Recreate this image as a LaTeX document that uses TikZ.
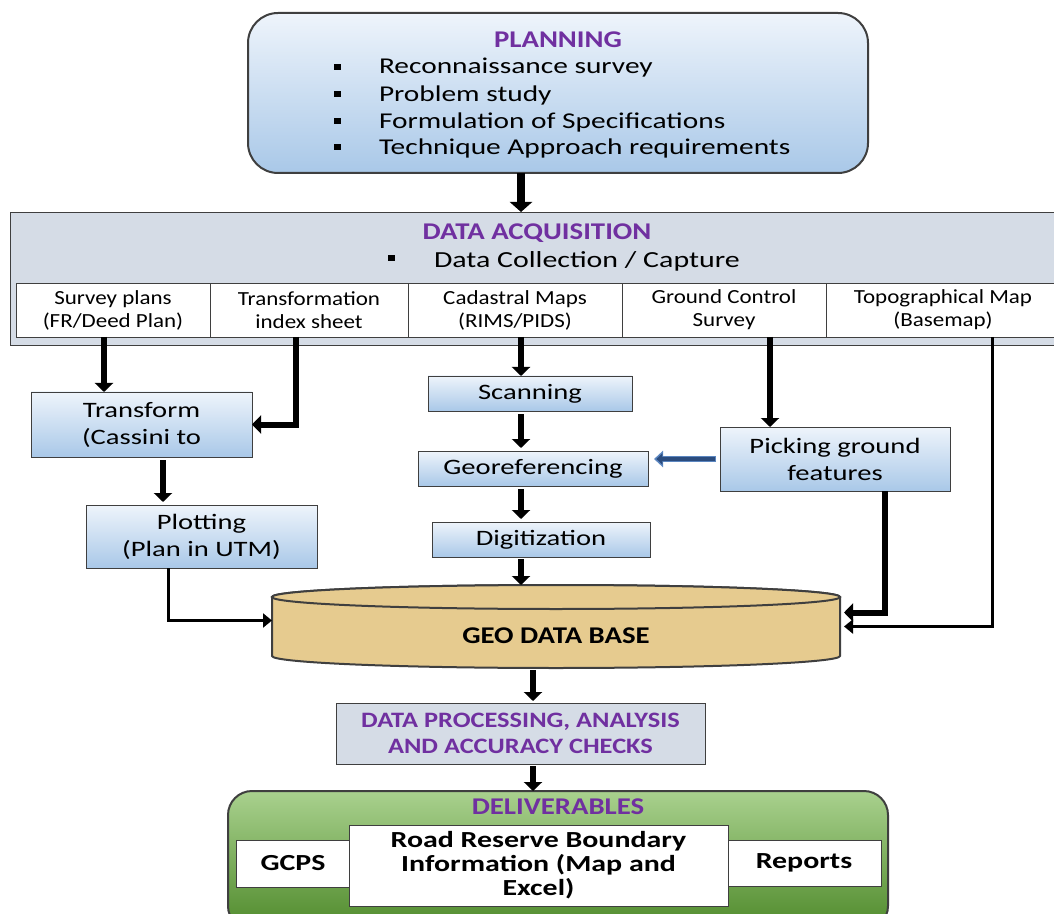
\documentclass[tikz,border=0pt]{standalone}
\usepackage{fontspec}
\setmainfont{Carlito}
\newfontfamily\bodyfont[FakeStretch=1.3]{Carlito}
\newfontfamily\cellfont[FakeStretch=1.15]{Carlito}
\newfontfamily\headfont[FakeStretch=1.2]{Carlito}
\definecolor{headpurple}{HTML}{7030A0}
\definecolor{darkline}{HTML}{3F3F3F}
\definecolor{boxtop}{HTML}{EEF4FB}
\definecolor{boxbottom}{HTML}{A9C8E8}
\definecolor{acqgrey}{HTML}{D5DCE6}
\definecolor{dbtan}{HTML}{E6CB8F}
\definecolor{greentop}{HTML}{A9D18E}
\definecolor{greenbottom}{HTML}{4F8A2B}
\definecolor{navy}{HTML}{2B4C7E}
\definecolor{lightnavy}{HTML}{5B86C0}
\usetikzlibrary{arrows.meta}
\tikzstyle{base}=[inner sep=0pt, outer sep=0pt]
\tikzstyle{bluebox}=[draw=darkline, top color=boxtop, bottom color=boxbottom, align=center, font=\bodyfont\fontsize{11}{13.5}\selectfont]
\tikzstyle{cell}=[draw=darkline, fill=white, align=center, minimum height=27pt, font=\cellfont\fontsize{10}{11.5}\selectfont]
\tikzstyle{outbox}=[draw=darkline, fill=white, align=center, font=\bodyfont\bfseries\fontsize{11.5}{12}\selectfont]
\tikzstyle{heading}=[text=headpurple, align=center, font=\headfont\bfseries\fontsize{12}{13}\selectfont]
\tikzstyle{sqbullet}=[fill=black, minimum width=3.5pt, minimum height=2.8pt]
\tikzstyle{flow}=[line width=3pt, -{Triangle[length=4.5pt, width=9pt]}]
\tikzstyle{thinflow}=[line width=1.5pt, -{Triangle[length=4.5pt, width=7pt]}]

\begin{document}
\begin{tikzpicture}[base, x=0.5pt, y=-0.5pt]
    \useasboundingbox (0,0) rectangle (1054,914);
    \clip (0,0) rectangle (1054,914);
    % columns of the connectors
    \coordinate (mid) at (521,0);
    \coordinate (low) at (533,0);
    \coordinate (sp) at (104,0);
    \coordinate (ti) at (296,0);
    \coordinate (gc) at (770,0);
    \coordinate (bm) at (992,0);
    \coordinate (tp) at (163,0);
    \coordinate (pl) at (168,0);
    \coordinate (pf) at (885,0);

    % planning
    \node [draw=darkline, line width=1pt, rounded corners=15pt, top color=boxtop, bottom color=boxbottom, minimum width=310pt, minimum height=80pt] (plan) at (558,93) {};
    \node [heading] (plantitle) at (558,40) {PLANNING};
    \foreach \y/\txt [count=\i] in {67/Reconnaissance survey, 94/Problem study, 121/Formulation of Specifications, 147/Technique Approach requirements} {
        \node [sqbullet] (pb\i) at (337,\y) {};
        \node [anchor=west, font=\bodyfont\fontsize{11.3}{12}\selectfont] (pl\i) at (379,\y+1) {\txt};
    }

    % data acquisition
    \node [draw=darkline, fill=acqgrey, minimum width=527pt, minimum height=66.5pt] (acq) at (537,278.5) {};
    \node [heading] (acqtitle) at (537,233) {DATA ACQUISITION};
    \node [sqbullet] (ab) at (391,258) {};
    \node [anchor=west, font=\bodyfont\fontsize{11.5}{13}\selectfont] (collect) at (434,261) {Data Collection / Capture};
    \node [cell, minimum width=97pt] (c1) at (113,310) {Survey plans\\(FR/Deed Plan)};
    \node [cell, minimum width=99pt] (c2) at (309,310) {Transformation\\index sheet};
    \node [cell, minimum width=107pt] (c3) at (515,310) {Cadastral Maps\\(RIMS/PIDS)};
    \node [cell, minimum width=102pt] (c4) at (724,310) {Ground Control\\Survey};
    \node [cell, minimum width=117pt] (c5) at (943,310) {Topographical Map\\(Basemap)};

    % processing steps
    \node [bluebox, minimum width=110.5pt, minimum height=32.5pt] (trans) at (141.5,424.5) {Transform\\(Cassini to};
    \node [bluebox, minimum width=115.5pt, minimum height=31.5pt] (plot) at (201.5,536.5) {Plotting\\(Plan in UTM)};
    \node [bluebox, minimum width=102pt, minimum height=17.5pt] (scan) at (530,393.5) {Scanning};
    \node [bluebox, minimum width=115pt, minimum height=17.5pt] (geo) at (533,468.5) {Georeferencing};
    \node [bluebox, minimum width=109pt, minimum height=17.5pt] (dig) at (541,539.5) {Digitization};
    \node [bluebox, minimum width=115pt, minimum height=32pt] (pick) at (835,459) {Picking ground\\features};

    % geo data base
    \node [minimum width=284pt, minimum height=41.5pt] (gdb) at (556,626.5) {};
    \draw [darkline, fill=dbtan, line width=1pt] ([yshift=-6pt]gdb.north west) -- ([yshift=6pt]gdb.south west)
        arc [start angle=180, end angle=360, x radius=142pt, y radius=6pt] -- ([yshift=-6pt]gdb.north east)
        arc [start angle=0, end angle=180, x radius=142pt, y radius=6pt] -- cycle;
    \draw [darkline, fill=dbtan, line width=1pt] ([yshift=-6pt]gdb.north) ellipse [x radius=142pt, y radius=6pt];
    \node [font=\headfont\bfseries\fontsize{12}{13}\selectfont] (gdbtext) at (556,636) {GEO DATA BASE};

    \node [draw=darkline, fill=acqgrey, minimum width=184.5pt, minimum height=30.5pt, heading, font=\headfont\bfseries\fontsize{11}{13}\selectfont] (proc) at (520.5,733.5) {DATA PROCESSING, ANALYSIS\\AND ACCURACY CHECKS};

    % deliverables
    \node [draw=darkline, line width=1pt, rounded corners=12pt, top color=greentop, bottom color=greenbottom, minimum width=330pt, minimum height=69.5pt] (deliv) at (558,860.5) {};
    \node [heading] (delivtitle) at (558,807) {DELIVERABLES};
    \node [outbox, minimum width=57pt, minimum height=23.5pt] (gcps) at (293,863.5) {GCPS};
    \node [outbox, minimum width=77pt, minimum height=23pt] (reports) at (804,863) {Reports};
    \node [outbox, minimum width=189.5pt, minimum height=40.5pt] (rrb) at (538.5,865.5) {Road Reserve Boundary\\Information (Map and\\Excel)};

    % connectors
    \draw [flow, line width=4pt, -{Triangle[length=5pt, width=11pt]}] (plan.south -| mid) -- (acq.north -| mid);
    \draw [flow] (c1.south -| sp) -- (trans.north -| sp);
    \draw [flow] (c2.south -| ti) |- (trans.east);
    \draw [flow] (c3.south -| mid) -- (scan.north -| mid);
    \draw [flow, shorten <=1.5pt, shorten >=1.5pt] (scan.south -| mid) -- (geo.north -| mid);
    \draw [flow, shorten <=1.5pt, shorten >=1.5pt] (geo.south -| mid) -- (dig.north -| mid);
    \draw [flow, shorten <=1pt] (dig.south -| mid) -- (gdb.north -| mid);
    \draw [flow] (c4.south -| gc) -- (pick.north -| gc);
    \draw [thinflow, shorten >=2pt] (c5.south -| bm) |- (gdb.east);
    \draw [flow, shorten >=2pt] (pick.south -| pf) |- ([yshift=7pt]gdb.east);
    \draw [flow, shorten <=1.5pt, shorten >=1.5pt] (trans.south -| tp) -- (plot.north -| tp);
    \draw [thinflow] (plot.south -| pl) |- ([yshift=3pt]gdb.west);
    \draw [line width=3pt, lightnavy, -{Triangle[length=4.5pt, width=8pt]}, shorten <=2pt, shorten >=3pt] (pick.west) -- (pick.west -| geo.east);
    \draw [line width=1.6pt, navy, -{Triangle[length=3pt, width=5.5pt]}, shorten <=2.5pt, shorten >=4.2pt] (pick.west) -- (pick.west -| geo.east);
    \draw [flow, shorten <=1pt, shorten >=1pt] (gdb.south -| low) -- (proc.north -| low);
    \draw [flow, shorten <=1pt] (proc.south -| low) -- (deliv.north -| low);
\end{tikzpicture}
\end{document}
